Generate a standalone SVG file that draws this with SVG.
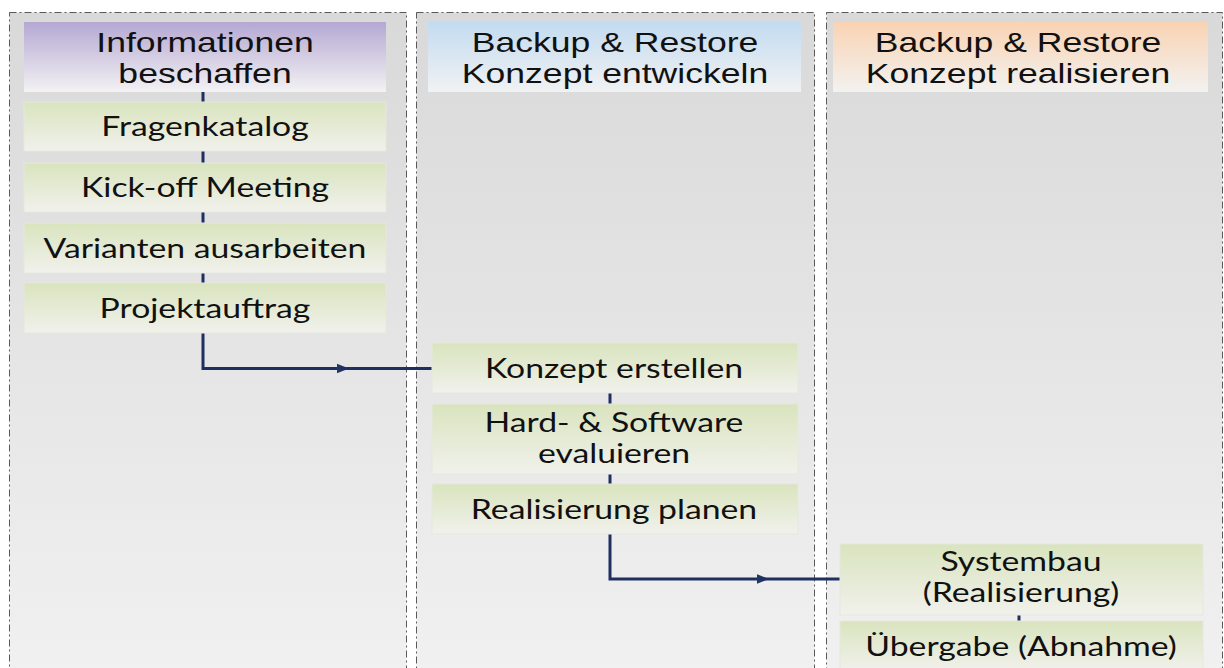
<svg xmlns="http://www.w3.org/2000/svg" width="1224" height="668" viewBox="0 0 1224 668">
<defs>
  <linearGradient id="laneG" x1="0" y1="0" x2="0" y2="1">
    <stop offset="0" stop-color="#d9d9d9"/>
    <stop offset="1" stop-color="#f1f1f1"/>
  </linearGradient>
  <linearGradient id="boxG" x1="0" y1="0" x2="0" y2="1">
    <stop offset="0" stop-color="#d9e4be"/>
    <stop offset="1" stop-color="#f1f1ec"/>
  </linearGradient>
  <linearGradient id="hPurple" x1="0" y1="0" x2="0" y2="1">
    <stop offset="0" stop-color="#b5a8d2"/>
    <stop offset="1" stop-color="#f3f2f4"/>
  </linearGradient>
  <linearGradient id="hBlue" x1="0" y1="0" x2="0" y2="1">
    <stop offset="0" stop-color="#c3dbf0"/>
    <stop offset="1" stop-color="#f1f2f3"/>
  </linearGradient>
  <linearGradient id="hOrange" x1="0" y1="0" x2="0" y2="1">
    <stop offset="0" stop-color="#f9d3b3"/>
    <stop offset="1" stop-color="#f3f2f0"/>
  </linearGradient>
  <marker id="arr" viewBox="0 0 10 10" refX="5" refY="5" markerWidth="4" markerHeight="4" orient="auto" markerUnits="strokeWidth">
    <path d="M0,1 L10,5 L0,9 z" fill="#1f3864"/>
  </marker>
  <style>
    .lane { fill: url(#laneG); stroke: #5a5a5a; stroke-width: 1; stroke-dasharray: 7 3 2 3; }
    .box { fill: url(#boxG); stroke: #e6e8dc; stroke-width: 1; }
    .hdr { font-family: "Liberation Sans", Arial, sans-serif; font-size: 28px; fill: #111; text-anchor: middle; }
    .t { font-family: Lato, "Open Sans", sans-serif; font-size: 27px; fill: #111; text-anchor: middle; }
    .con { fill: none; stroke: #1f3060; stroke-width: 3; }
    .tick { fill: none; stroke: #1f3060; stroke-width: 3; }
  </style>
</defs>
<rect width="1224" height="668" fill="#ffffff"/>

<g id="lanes">
  <rect class="lane" x="9.5" y="12.5" width="397" height="670"/>
  <rect class="lane" x="416.5" y="12.5" width="398" height="670"/>
  <rect class="lane" x="826.5" y="12.5" width="396" height="670"/>
</g>

<g id="connectors">
  <line class="tick" x1="203" y1="92" x2="203" y2="102"/>
  <line class="tick" x1="203" y1="151" x2="203" y2="163"/>
  <line class="tick" x1="203" y1="212" x2="203" y2="223"/>
  <line class="tick" x1="203" y1="273" x2="203" y2="283"/>
  <line class="tick" x1="610" y1="393" x2="610" y2="404"/>
  <line class="tick" x1="610" y1="474" x2="610" y2="484"/>
  <line class="tick" x1="1019" y1="615" x2="1019" y2="621" stroke-width="2"/>
  <path class="con" d="M203,333 V368.5 H343" marker-end="url(#arr)"/>
  <path class="con" d="M340,368.5 H432"/>
  <path class="con" d="M610,534 V579 H763" marker-end="url(#arr)"/>
  <path class="con" d="M760,579 H840"/>
</g>

<g id="header-informationen">
  <rect x="24" y="22" width="362" height="70" fill="url(#hPurple)"/>
  <text class="hdr" transform="translate(205,52) scale(1.27,1)">Informationen</text>
  <text class="hdr" transform="translate(205,83) scale(1.27,1)">beschaffen</text>
</g>
<g id="header-entwickeln">
  <rect x="428" y="22" width="373" height="70" fill="url(#hBlue)"/>
  <text class="hdr" transform="translate(615,52) scale(1.27,1)">Backup &amp; Restore</text>
  <text class="hdr" transform="translate(615,83) scale(1.27,1)">Konzept entwickeln</text>
</g>
<g id="header-realisieren">
  <rect x="833" y="22" width="375" height="70" fill="url(#hOrange)"/>
  <text class="hdr" transform="translate(1018,52) scale(1.27,1)">Backup &amp; Restore</text>
  <text class="hdr" transform="translate(1018,83) scale(1.27,1)">Konzept realisieren</text>
</g>

<g id="node-fragenkatalog">
  <rect class="box" x="24" y="102" width="362" height="49"/>
  <text class="t" transform="translate(205,136) scale(1.25,1)">Fragenkatalog</text>
</g>
<g id="node-kickoff">
  <rect class="box" x="24" y="163" width="362" height="49"/>
  <text class="t" transform="translate(205,197) scale(1.25,1)">Kick-off Meeting</text>
</g>
<g id="node-varianten">
  <rect class="box" x="24" y="223" width="362" height="50"/>
  <text class="t" transform="translate(205,257.5) scale(1.25,1)">Varianten ausarbeiten</text>
</g>
<g id="node-projektauftrag">
  <rect class="box" x="24" y="283" width="362" height="50"/>
  <text class="t" transform="translate(205,317.5) scale(1.25,1)">Projektauftrag</text>
</g>

<g id="node-konzept">
  <rect class="box" x="432" y="343" width="366" height="50"/>
  <text class="t" transform="translate(614,377.5) scale(1.25,1)">Konzept erstellen</text>
</g>
<g id="node-hardsoftware">
  <rect class="box" x="432" y="404" width="366" height="70"/>
  <text class="t" transform="translate(614,431.5) scale(1.25,1)">Hard- &amp; Software</text>
  <text class="t" transform="translate(614,462.5) scale(1.25,1)">evaluieren</text>
</g>
<g id="node-planen">
  <rect class="box" x="432" y="484" width="366" height="50"/>
  <text class="t" transform="translate(614,518.5) scale(1.25,1)">Realisierung planen</text>
</g>

<g id="node-systembau">
  <rect class="box" x="840" y="544" width="363" height="71"/>
  <text class="t" transform="translate(1021,570.5) scale(1.25,1)">Systembau</text>
  <text class="t" transform="translate(1021,601.5) scale(1.25,1)">(Realisierung)</text>
</g>
<g id="node-uebergabe">
  <rect class="box" x="840" y="621" width="363" height="50"/>
  <text class="t" transform="translate(1021,655.5) scale(1.25,1)">Übergabe (Abnahme)</text>
</g>
</svg>
